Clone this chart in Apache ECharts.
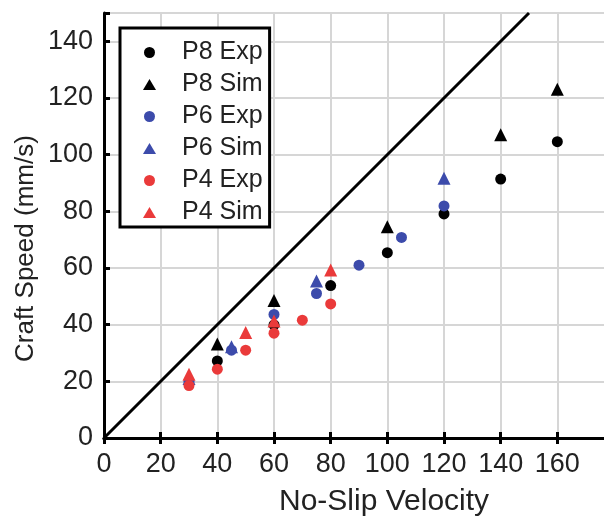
<!DOCTYPE html>
<html><head><meta charset="utf-8">
<script src="https://cdn.jsdelivr.net/npm/echarts@6/dist/echarts.min.js"></script>
<style>html,body{margin:0;padding:0;background:#fff;overflow:hidden}#c{width:620px;height:521px}</style>
</head><body><div id="c"></div>
<script>
const xTicks = [0,20,40,60,80,100,120,140,160];
const yTicks = [0,20,40,60,80,100,120,140];
const idealX = [0,150];
const idealY = [0,150];
const p8ExpX = [40,60,80,100,120,140,160];
const p8ExpY = [27.2,39.9,53.8,65.4,79.1,91.4,104.6];
const p8SimX = [40,60,100,140,160];
const p8SimY = [33.2,48.5,74.6,107,123.1];
const p6ExpX = [30,45,60,75,90,105,120];
const p6ExpY = [20,31,43.6,51,61,70.8,81.9];
const p6SimX = [30,45,75,120];
const p6SimY = [21,32.2,55.4,91.7];
const p4ExpX = [30,40,50,60,70,80];
const p4ExpY = [18.5,24.3,31,37,41.6,47.3];
const p4SimX = [30,50,60,80];
const p4SimY = [22.5,37.2,41.3,59.3];

const FONT = "'Liberation Sans', Arial, sans-serif";
const BLACK = '#000000', BLUE = '#3c4bab', RED = '#ea3a3a';
const TXT = '#222222';
const zip = (xs, ys) => xs.map((x, i) => [x, ys[i]]);

const chart = echarts.init(document.getElementById('c'), null, {renderer: 'canvas'});
const gridCol = '#d6d6d6';
const onlyTicks = v => (xTicks.includes(v) ? String(v) : '');
const onlyYTicks = v => (yTicks.includes(v) ? String(v) : '');

function sc(name, xs, ys, color, sym, size) {
  return {
    name, type: 'scatter', data: zip(xs, ys), symbol: sym, symbolSize: size,
    itemStyle: {color, opacity: 1}, z: 5
  };
}

chart.setOption({
  animation: false,
  backgroundColor: '#fff',
  grid: {left: 104, top: 13, height: 425, width: 510, containLabel: false},
  xAxis: [{
    type: 'value', min: 0, max: 180, interval: 20,
    axisLine: {onZero: false, lineStyle: {color: '#000', width: 3}},
    axisTick: {inside: true, length: 6, lineStyle: {color: '#000', width: 3}},
    axisLabel: {formatter: onlyTicks, color: TXT, fontSize: 27, fontFamily: FONT, margin: 13},
    splitLine: {show: true, lineStyle: {color: gridCol, width: 2}}
  }, {
    type: 'value', position: 'top', min: 0, max: 180, interval: 20,
    axisLine: {lineStyle: {color: '#000', width: 3}},
    axisTick: {inside: true, length: 6, lineStyle: {color: '#000', width: 3}},
    axisLabel: {show: false}, splitLine: {show: false}
  }],
  yAxis: [{
    type: 'value', min: 0, max: 150, interval: 20,
    axisLine: {onZero: false, lineStyle: {color: '#000', width: 3}},
    axisTick: {inside: true, length: 6, lineStyle: {color: '#000', width: 3}},
    axisLabel: {formatter: onlyYTicks, color: TXT, fontSize: 27, fontFamily: FONT, margin: 11},
    splitLine: {show: true, lineStyle: {color: gridCol, width: 2}}
  }],
  legend: {
    orient: 'vertical', left: 120, top: 28,
    padding: [12, 7, 2, 23], itemGap: 7,
    itemWidth: 13, itemHeight: 11,
    backgroundColor: '#fff', borderColor: '#000', borderWidth: 3,
    textStyle: {fontSize: 25, fontFamily: FONT, color: TXT, lineHeight: 24, padding: [0, 0, 0, 21]},
    data: [
      {name: 'P8 Exp', icon: 'circle'},
      {name: 'P8 Sim', icon: 'triangle'},
      {name: 'P6 Exp', icon: 'circle'},
      {name: 'P6 Sim', icon: 'triangle'},
      {name: 'P4 Exp', icon: 'circle'},
      {name: 'P4 Sim', icon: 'triangle'}
    ],
    z: 20
  },
  graphic: [
    {type: 'text', left: 279, top: 487, style: {text: 'No-Slip Velocity', fontSize: 30, fontFamily: FONT, fill: TXT}, z: 30},
    {type: 'text', x: 13, y: 362, rotation: Math.PI / 2, style: {text: 'Craft Speed (mm/s)', fontSize: 26, fontFamily: FONT, fill: TXT, textVerticalAlign: 'top'}, z: 30}
  ],
  series: [
    {type: 'line', data: zip(idealX, idealY), showSymbol: false, silent: true,
     lineStyle: {color: '#000', width: 3}, z: 3, legendHoverLink: false},
    sc('P8 Exp', p8ExpX, p8ExpY, BLACK, 'circle', 11),
    sc('P8 Sim', p8SimX, p8SimY, BLACK, 'triangle', 13),
    sc('P6 Exp', p6ExpX, p6ExpY, BLUE, 'circle', 11),
    sc('P6 Sim', p6SimX, p6SimY, BLUE, 'triangle', 13),
    sc('P4 Exp', p4ExpX, p4ExpY, RED, 'circle', 11),
    sc('P4 Sim', p4SimX, p4SimY, RED, 'triangle', 13)
  ]
});
</script></body></html>
